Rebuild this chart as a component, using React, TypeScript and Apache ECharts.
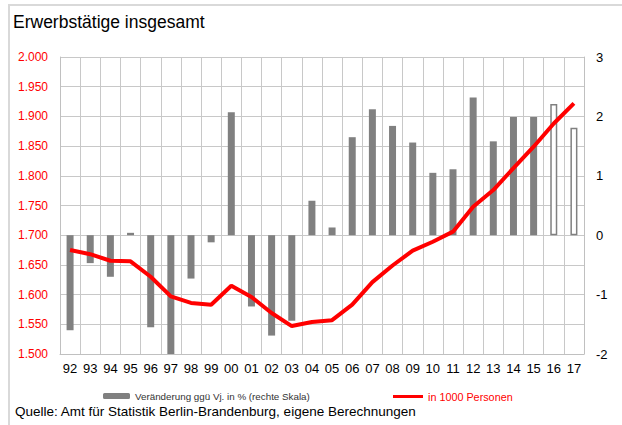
import React, { useEffect, useRef } from "react";
import * as echarts from "echarts";

const years = ["92","93","94","95","96","97","98","99","00","01","02","03","04","05","06","07","08","09","10","11","12","13","14","15","16","17"];
const changePct = [-1.6,-0.47,-0.7,0.04,-1.55,-2.0,-0.73,-0.12,2.07,-1.2,-1.69,-1.44,0.58,0.13,1.65,2.12,1.84,1.56,1.05,1.11,2.32,1.58,1.99,1.99,2.21,1.81];
const forecastYears = ["16","17"];
const persons = [1675,1668,1657,1656,1630,1597,1586,1583,1615,1596,1569,1547,1554,1557,1583,1621,1649,1674,1689,1706,1748,1776,1813,1849,1888,1922];
const leftTicks = { min: 1500, max: 2000, step: 50 };
const rightTicks = { min: -2, max: 3, step: 1 };

const FONT = "'Liberation Sans', Arial, sans-serif";

export default function App() {
  const ref = useRef<HTMLDivElement>(null);
  useEffect(() => {
    const chart = echarts.init(ref.current!, null, { renderer: "svg" });
    const barData = changePct.map((v, i) =>
      forecastYears.includes(years[i])
        ? { value: v, itemStyle: { color: "#ffffff", borderColor: "#808080", borderWidth: 1.5 } }
        : { value: v }
    );
    chart.setOption({
      animation: false,
      textStyle: { fontFamily: FONT },
      title: {
        text: "Erwerbstätige insgesamt",
        left: 8,
        top: 8,
        textStyle: { fontSize: 17.5, fontWeight: "normal", color: "#000", fontFamily: FONT },
      },
      grid: { left: 60, right: 38, top: 57, bottom: 71 },
      legend: [
        {
          data: ["Veränderung ggü Vj. in % (rechte Skala)"],
          left: 98,
          top: 386,
          itemWidth: 27,
          itemHeight: 6,
          itemGap: 4,
          textStyle: { fontSize: 9.8, color: "#333", fontFamily: FONT },
        },
        {
          data: [{ name: "in 1000 Personen", icon: "rect" }],
          left: 388,
          top: 386,
          itemWidth: 30,
          itemHeight: 3,
          itemGap: 4,
          textStyle: { fontSize: 10.8, color: "#ff0000", fontFamily: FONT },
        },
      ],
      xAxis: {
        type: "category",
        data: years,
        boundaryGap: true,
        axisLine: { show: true, onZero: false, lineStyle: { color: "#c0c0c0", width: 1 } },
        axisTick: { show: false },
        axisLabel: { color: "#000", fontSize: 13, margin: 8, interval: 0, fontFamily: FONT },
        splitLine: { show: true, interval: 0, lineStyle: { color: "#c8c8c8", width: 1 } },
      },
      yAxis: [
        {
          type: "value",
          min: leftTicks.min,
          max: leftTicks.max,
          interval: leftTicks.step,
          axisLine: { show: true, lineStyle: { color: "#c0c0c0" } },
          axisTick: { show: false },
          axisLabel: {
            color: "#ff0000",
            fontSize: 12,
            margin: 12,
            fontFamily: FONT,
            formatter: (v: number) => {
              const s = String(v);
              return s.slice(0, 1) + "." + s.slice(1);
            },
          },
          splitLine: { show: true, lineStyle: { color: "#c8c8c8", width: 1 } },
        },
        {
          type: "value",
          min: rightTicks.min,
          max: rightTicks.max,
          interval: rightTicks.step,
          position: "right",
          axisLine: { show: true, lineStyle: { color: "#c0c0c0" } },
          axisTick: { show: false },
          axisLabel: { color: "#000", fontSize: 13, margin: 12, fontFamily: FONT },
          splitLine: { show: false },
        },
      ],
      series: [
        {
          name: "Veränderung ggü Vj. in % (rechte Skala)",
          type: "bar",
          yAxisIndex: 1,
          data: barData,
          barWidth: 7,
          itemStyle: { color: "#808080" },
        },
        {
          name: "in 1000 Personen",
          type: "line",
          yAxisIndex: 0,
          data: persons,
          showSymbol: false,
          symbol: "none",
          lineStyle: { color: "#ff0000", width: 4 },
          itemStyle: { color: "#ff0000" },
          z: 5,
        },
      ],
      graphic: [
        { type: "line", shape: { x1: 8, y1: 5, x2: 622, y2: 5 }, style: { stroke: "#d9d9d9", lineWidth: 2 } },
        { type: "line", shape: { x1: 9, y1: 4, x2: 9, y2: 425 }, style: { stroke: "#d9d9d9", lineWidth: 2 } },
        {
          type: "text",
          left: 15,
          top: 404,
          style: {
            text: "Quelle: Amt für Statistik Berlin-Brandenburg, eigene Berechnungen",
            fontSize: 13.5,
            fill: "#000",
            fontFamily: FONT,
          },
        },
      ],
    });
    return () => chart.dispose();
  }, []);
  return (
    <div
      ref={ref}
      style={{ position: "absolute", left: 0, top: 0, width: 622, height: 425, background: "#fff" }}
    />
  );
}
